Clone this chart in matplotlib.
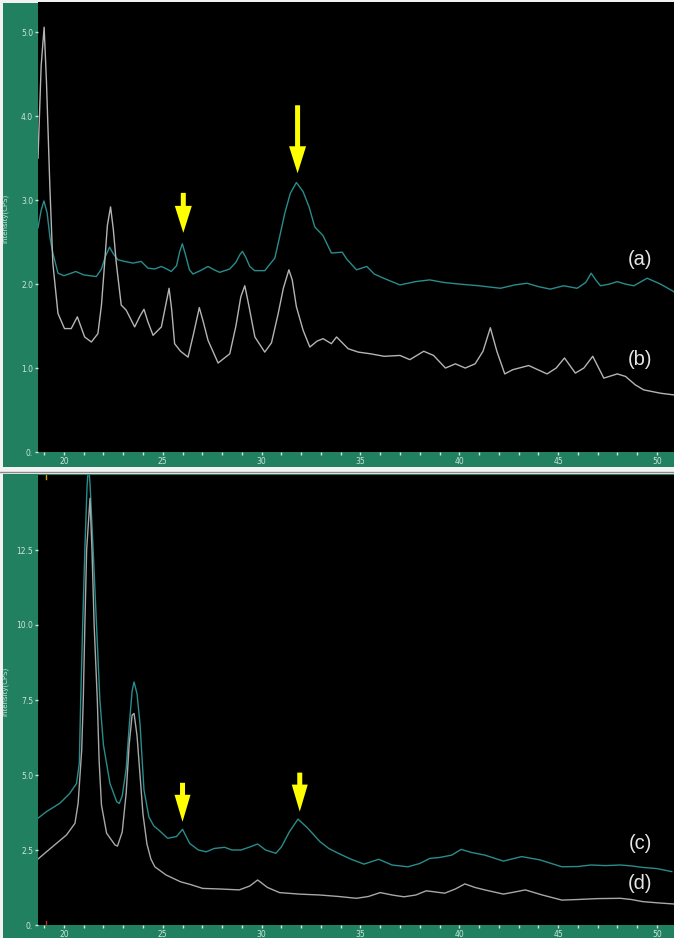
import matplotlib
matplotlib.use('Agg')
import matplotlib.pyplot as plt
from matplotlib.patches import Rectangle, Polygon
from matplotlib.lines import Line2D
from matplotlib.ticker import MultipleLocator
from matplotlib.transforms import ScaledTranslation

# Colores del instrumento
GREEN = '#218060'
TEAL = '#2a8c8c'
GREY = '#b4b4b4'
LIGHT = '#cde6da'
YELLOW = '#ffff00'

# Panel superior, curva (a)
a_x = [18.69, 18.85, 18.99, 19.15, 19.30, 19.44, 19.7, 20.0, 20.37, 20.6, 21.0, 21.3,
       21.64, 21.9, 22.1, 22.31, 22.5, 22.73, 23.07, 23.5, 23.91, 24.25, 24.6, 24.93,
       25.2, 25.43, 25.7, 25.85, 25.99, 26.15, 26.35, 26.53, 26.9, 27.29, 27.6, 27.88,
       28.39, 28.7, 28.9, 29.03, 29.2, 29.4, 29.65, 30.16, 30.67, 30.9, 31.17, 31.45,
       31.76, 31.95, 32.1, 32.4, 32.69, 33.1, 33.53, 34.08, 34.3, 34.8, 35.32, 35.7,
       36.17, 37.0, 37.8, 38.5, 39.2, 40.0, 41.0, 42.08, 42.8, 43.43, 44.0, 44.6,
       45.28, 45.96, 46.4, 46.67, 46.9, 47.14, 47.6, 47.99, 48.4, 48.83, 49.5, 50.18, 50.85]
a_y = [2.67, 2.88, 2.99, 2.85, 2.55, 2.37, 2.13, 2.10, 2.13, 2.15, 2.11, 2.10,
       2.09, 2.18, 2.33, 2.44, 2.36, 2.29, 2.27, 2.25, 2.27, 2.19, 2.18, 2.21,
       2.18, 2.15, 2.22, 2.38, 2.48, 2.35, 2.17, 2.12, 2.16, 2.21, 2.17, 2.14,
       2.18, 2.26, 2.35, 2.39, 2.32, 2.21, 2.16, 2.16, 2.31, 2.55, 2.84, 3.08,
       3.21, 3.15, 3.10, 2.92, 2.68, 2.58, 2.37, 2.38, 2.30, 2.17, 2.21, 2.12,
       2.07, 1.99, 2.03, 2.05, 2.02, 2.00, 1.98, 1.95, 1.99, 2.01, 1.97, 1.94,
       1.98, 1.95, 2.02, 2.13, 2.05, 1.98, 2.00, 2.03, 2.00, 1.98, 2.07, 2.00, 1.91]

# Panel superior, curva (b)
b_x = [18.69, 18.85, 19.0, 19.12, 19.29, 19.44, 19.7, 20.03, 20.37, 20.68, 21.05, 21.39,
       21.72, 21.9, 22.06, 22.2, 22.36, 22.5, 22.65, 22.9, 23.15, 23.58, 23.85, 24.05,
       24.25, 24.51, 24.93, 25.15, 25.32, 25.45, 25.6, 25.9, 26.28, 26.55, 26.85, 27.05,
       27.29, 27.8, 28.39, 28.7, 28.95, 29.15, 29.35, 29.66, 30.16, 30.5, 30.84, 31.1,
       31.38, 31.55, 31.76, 32.1, 32.44, 32.8, 33.11, 33.53, 33.79, 34.38, 34.89, 35.5,
       36.2, 37.0, 37.5, 38.2, 38.7, 39.3, 39.8, 40.3, 40.8, 41.2, 41.57, 41.9,
       42.3, 42.7, 43.51, 44.44, 44.9, 45.32, 45.87, 46.3, 46.75, 47.31, 47.99, 48.41,
       48.9, 49.33, 50.18, 50.85]
b_y = [3.50, 4.60, 5.06, 4.40, 3.16, 2.25, 1.65, 1.47, 1.47, 1.61, 1.37, 1.31,
       1.41, 1.75, 2.25, 2.70, 2.92, 2.65, 2.25, 1.75, 1.69, 1.49, 1.62, 1.70,
       1.55, 1.39, 1.49, 1.75, 1.95, 1.70, 1.29, 1.20, 1.13, 1.40, 1.72, 1.55,
       1.33, 1.06, 1.17, 1.50, 1.85, 1.98, 1.75, 1.37, 1.19, 1.30, 1.65, 1.95,
       2.17, 2.05, 1.73, 1.45, 1.25, 1.32, 1.35, 1.29, 1.37, 1.23, 1.19, 1.17,
       1.14, 1.15, 1.10, 1.20, 1.15, 1.00, 1.05, 1.00, 1.05, 1.20, 1.48, 1.20,
       0.93, 0.98, 1.03, 0.93, 1.00, 1.12, 0.94, 1.00, 1.14, 0.88, 0.93, 0.90,
       0.80, 0.74, 0.70, 0.68]

# Panel inferior, curva (c)
c_x = [18.69, 19.12, 19.8, 20.3, 20.64, 20.78, 20.85, 20.95, 21.06, 21.17, 21.25, 21.33,
       21.48, 21.65, 21.82, 22.0, 22.33, 22.67, 22.8, 22.95, 23.15, 23.3, 23.45, 23.55,
       23.7, 23.85, 24.05, 24.3, 24.55, 24.79, 25.25, 25.7, 26.0, 26.36, 26.8, 27.2,
       27.6, 28.13, 28.5, 28.96, 29.4, 29.8, 30.2, 30.72, 31.0, 31.4, 31.84, 32.3,
       32.95, 33.4, 33.88, 34.5, 35.18, 35.92, 36.6, 37.4, 38.0, 38.51, 39.0, 39.62,
       40.09, 40.6, 41.29, 42.23, 43.15, 44.08, 45.19, 46.0, 46.67, 47.4, 48.15, 48.7,
       49.27, 50.0, 50.75]
c_y = [3.56, 3.78, 4.06, 4.39, 4.72, 5.40, 7.50, 10.0, 12.5, 14.6, 15.4, 14.6,
       12.5, 10.0, 7.50, 6.00, 4.72, 4.11, 4.05, 4.30, 5.20, 6.60, 7.80, 8.10,
       7.70, 6.70, 4.50, 3.60, 3.30, 3.17, 2.89, 2.95, 3.19, 2.72, 2.50, 2.44,
       2.55, 2.59, 2.50, 2.50, 2.60, 2.70, 2.50, 2.39, 2.60, 3.10, 3.53, 3.25,
       2.78, 2.55, 2.39, 2.20, 2.03, 2.19, 2.00, 1.94, 2.05, 2.22, 2.25, 2.33,
       2.52, 2.42, 2.33, 2.13, 2.28, 2.17, 1.94, 1.95, 2.00, 1.98, 2.00, 1.97,
       1.92, 1.88, 1.78]

# Panel inferior, curva (d)
d_x = [18.69, 19.46, 20.13, 20.56, 20.72, 20.9, 20.98, 21.06, 21.15, 21.32, 21.42, 21.53,
       21.69, 21.78, 21.9, 22.16, 22.58, 22.71, 22.95, 23.15, 23.3, 23.45, 23.55, 23.7,
       23.85, 24.0, 24.2, 24.4, 24.6, 25.16, 25.9, 26.4, 27.02, 27.9, 28.87, 29.4,
       29.8, 30.3, 30.91, 31.9, 32.95, 33.9, 34.8, 35.4, 36.0, 36.6, 37.2, 37.8,
       38.33, 38.8, 39.26, 39.8, 40.28, 40.8, 41.29, 42.23, 42.8, 43.34, 44.2, 45.19,
       46.0, 47.0, 48.15, 48.7, 49.27, 50.0, 50.85]
d_y = [2.20, 2.63, 3.00, 3.39, 4.06, 5.83, 7.50, 10.0, 12.5, 14.22, 12.5, 10.0,
       7.50, 5.50, 4.00, 3.06, 2.67, 2.63, 3.10, 4.40, 6.00, 7.00, 7.05, 6.30,
       5.00, 3.70, 2.70, 2.20, 1.94, 1.67, 1.44, 1.35, 1.22, 1.20, 1.17, 1.30,
       1.50, 1.25, 1.08, 1.03, 1.00, 0.95, 0.89, 0.95, 1.08, 1.00, 0.94, 1.00,
       1.14, 1.10, 1.06, 1.20, 1.37, 1.25, 1.17, 1.03, 1.10, 1.17, 1.00, 0.83,
       0.85, 0.88, 0.89, 0.85, 0.78, 0.74, 0.70]

# Flechas amarillas (punta en coordenadas de datos) y etiquetas
top_arrows_x = [26.04, 31.82]
top_arrows_y = [2.61, 3.32]
top_arrows_len = [40, 68]
bottom_arrows_x = [26.0, 31.93]
bottom_arrows_y = [3.44, 3.78]
bottom_arrows_len = [39, 39]

top_labels = ['(a)', '(b)']
top_labels_y = [2.29, 1.10]
bottom_labels = ['(c)', '(d)']
bottom_labels_y = [2.73, 1.40]

x_ticks = [20, 25, 30, 35, 40, 45, 50]
top_yticks = [0, 1, 2, 3, 4, 5]
top_ylabels = ['0.', '1.0', '2.0', '3.0', '4.0', '5.0']
bottom_yticks = [0, 2.5, 5, 7.5, 10, 12.5]
bottom_ylabels = ['0.', '2.5', '5.0', '7.5', '10.0', '12.5']

W, H = 674, 938
fig = plt.figure(figsize=(W / 100, H / 100), dpi=100, facecolor='#f2f2f2')

# Fondos verdes de cada panel y la linea que los separa (detras de los ejes)
fig.add_artist(Rectangle((3 / W, (H - 467) / H), 671 / W, 464 / H, zorder=-10,
                         transform=fig.transFigure, facecolor=GREEN, edgecolor='none'))
fig.add_artist(Rectangle((3 / W, 0), 671 / W, 464 / H, zorder=-10,
                         transform=fig.transFigure, facecolor=GREEN, edgecolor='none'))
fig.add_artist(Line2D([0, 1], [(H - 472) / H] * 2, transform=fig.transFigure,
                      color='#8a8a8a', lw=1, zorder=-10))

ax_top = fig.add_axes([38 / W, (H - 452) / H, 636 / W, 450 / H])
ax_bot = fig.add_axes([38 / W, 13 / H, 636 / W, 450 / H])


def arrow(ax, x, y, length, head_len=27, head_w=17, shaft_w=5):
    # flecha dibujada en pixeles, anclada a la punta en datos
    s = 1 / 100
    verts = [(0, 0), (-head_w / 2, head_len), (-shaft_w / 2, head_len), (-shaft_w / 2, length),
             (shaft_w / 2, length), (shaft_w / 2, head_len), (head_w / 2, head_len)]
    verts = [(vx * s, vy * s) for vx, vy in verts]
    trans = fig.dpi_scale_trans + ScaledTranslation(x, y, ax.transData)
    ax.add_patch(Polygon(verts, closed=True, transform=trans, facecolor=YELLOW,
                         edgecolor='none', zorder=5, clip_on=False))


def style(ax, ymax, yticks, ylabels):
    ax.set_facecolor('black')
    ax.set_xlim(18.69, 50.86)
    ax.set_ylim(0, ymax)
    for sp in ax.spines.values():
        sp.set_visible(False)
    ax.set_xticks(x_ticks)
    ax.xaxis.set_minor_locator(MultipleLocator(1))
    ax.set_yticks(yticks)
    ax.set_yticklabels(ylabels)
    ax.tick_params(axis='both', which='both', colors=LIGHT, labelsize=5.5,
                   length=2, width=1, pad=1.5)
    ax.set_ylabel('Intensity(CPS)', fontsize=5, color=LIGHT)
    ax.yaxis.set_label_coords(-0.046, 0.52)


# Panel superior
style(ax_top, 5.36, top_yticks, top_ylabels)
ax_top.plot(a_x, a_y, color=TEAL, lw=1.0)
ax_top.plot(b_x, b_y, color=GREY, lw=1.0)
for x, y, l in zip(top_arrows_x, top_arrows_y, top_arrows_len):
    arrow(ax_top, x, y, l)
for lab, y in zip(top_labels, top_labels_y):
    ax_top.text(49.16, y, lab, color='#e6e6e6', fontsize=14.5, family='Liberation Sans',
                ha='center', va='center')

# Panel inferior
style(ax_bot, 15.0, bottom_yticks, bottom_ylabels)
ax_bot.plot(c_x, c_y, color=TEAL, lw=1.0)
ax_bot.plot(d_x, d_y, color='#a8a8a8', lw=1.0)
for x, y, l in zip(bottom_arrows_x, bottom_arrows_y, bottom_arrows_len):
    arrow(ax_bot, x, y, l, head_w=16)
for lab, y in zip(bottom_labels, bottom_labels_y):
    ax_bot.text(49.16, y, lab, color='#e6e6e6', fontsize=14.5, family='Liberation Sans',
                ha='center', va='center')

# marcas de cursor del equipo
ax_bot.plot([19.11, 19.11], [14.85, 15.0], color='#c8a000', lw=1)
ax_bot.plot([19.11, 19.11], [0.0, 0.15], color='#d02020', lw=1)

fig.savefig('out.png', dpi=100, facecolor=fig.get_facecolor())
